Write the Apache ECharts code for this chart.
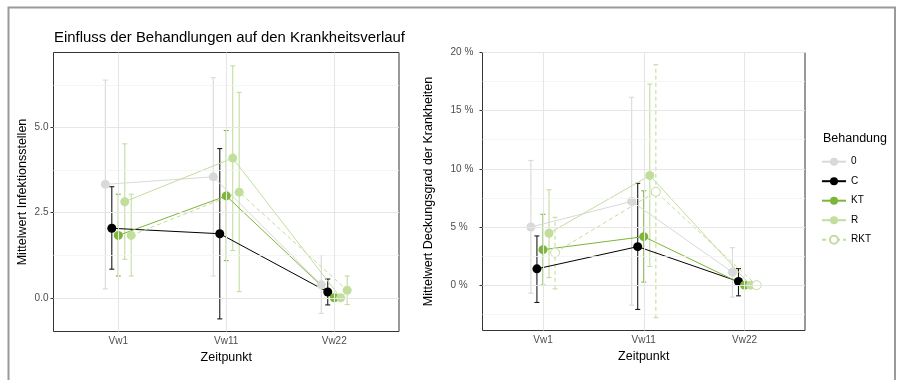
<!DOCTYPE html>
<html>
<head>
<meta charset="utf-8">
<script src="https://cdn.jsdelivr.net/npm/echarts@6/dist/echarts.min.js"></script>
<style>html,body{margin:0;padding:0;background:#fff;}#c{width:901px;height:380px;}</style>
</head>
<body>
<div id="c"></div>
<script>
const categories = ['Vw1', 'Vw11', 'Vw22'];
const groups = ['0', 'C', 'KT', 'R', 'RKT'];

// Left panel: Mittelwert Infektionsstellen (mean, lower, upper per time point)
const inf_0 = [3.33, 3.55, 0.38];
const inf_0_lo = [0.26, 0.64, -0.46];
const inf_0_hi = [6.39, 6.46, 1.24];
const inf_C = [2.04, 1.88, 0.17];
const inf_C_lo = [0.84, -0.62, -0.21];
const inf_C_hi = [3.26, 4.38, 0.55];
const inf_KT = [1.83, 2.99, 0.0];
const inf_KT_lo = [0.64, 1.09, 0.0];
const inf_KT_hi = [3.04, 4.91, 0.0];
const inf_R = [2.82, 4.10, 0.0];
const inf_R_lo = [1.13, 1.39, 0.0];
const inf_R_hi = [4.52, 6.81, 0.0];
const inf_RKT = [1.83, 3.10, 0.22];
const inf_RKT_lo = [0.64, 0.18, -0.20];
const inf_RKT_hi = [3.04, 6.03, 0.64];

// Right panel: Mittelwert Deckungsgrad der Krankheiten (in %)
const deck_0 = [5.0, 7.2, 1.11];
const deck_0_lo = [-0.69, -1.72, -1.03];
const deck_0_hi = [10.72, 16.15, 3.22];
const deck_C = [1.40, 3.31, 0.31];
const deck_C_lo = [-1.49, -2.09, -0.92];
const deck_C_hi = [4.23, 8.75, 1.42];
const deck_KT = [3.05, 4.17, 0.0];
const deck_KT_lo = [0.0, 0.26, 0.0];
const deck_KT_hi = [6.09, 8.11, 0.0];
const deck_R = [4.46, 9.43, 0.0];
const deck_R_lo = [0.65, 1.60, 0.0];
const deck_R_hi = [8.20, 17.29, 0.0];
const deck_RKT = [2.80, 8.03, 0.0];
const deck_RKT_lo = [-0.32, -2.80, 0.0];
const deck_RKT_hi = [5.83, 18.95, 0.0];

const leftTicks = [0, 2.5, 5.0];
const leftMinor = [1.25, 3.75, 6.25];
const rightTicks = [0, 5, 10, 15, 20];
const rightMinor = [-2.5, 2.5, 7.5, 12.5, 17.5];

const infData = {
  '0': [inf_0, inf_0_lo, inf_0_hi],
  'C': [inf_C, inf_C_lo, inf_C_hi],
  'KT': [inf_KT, inf_KT_lo, inf_KT_hi],
  'R': [inf_R, inf_R_lo, inf_R_hi],
  'RKT': [inf_RKT, inf_RKT_lo, inf_RKT_hi]
};
const deckData = {
  '0': [deck_0, deck_0_lo, deck_0_hi],
  'C': [deck_C, deck_C_lo, deck_C_hi],
  'KT': [deck_KT, deck_KT_lo, deck_KT_hi],
  'R': [deck_R, deck_R_lo, deck_R_hi],
  'RKT': [deck_RKT, deck_RKT_lo, deck_RKT_hi]
};

const colors = { '0': '#D9D9D9', 'C': '#000000', 'KT': '#7DB539', 'R': '#C2DE9D', 'RKT': '#C2DE9D' };
const dodge = { '0': -0.12, 'C': -0.06, 'KT': 0, 'R': 0.06, 'RKT': 0.12 };
const FONT = 'Liberation Sans, Arial, Helvetica, sans-serif';

function gridSeries(idx, majorY, minorY) {
  const d = [];
  minorY.forEach(v => d.push({ yAxis: v, lineStyle: { color: '#F2F2F2', width: 0.8, type: 'solid' } }));
  majorY.forEach(v => d.push({ yAxis: v, lineStyle: { color: '#E6E6E6', width: 1.1, type: 'solid' } }));
  [1, 2, 3].forEach(v => d.push({ xAxis: v, lineStyle: { color: '#E6E6E6', width: 1.1, type: 'solid' } }));
  return {
    type: 'line', xAxisIndex: idx, yAxisIndex: idx, data: [], z: 1, silent: true,
    markLine: { silent: true, symbol: ['none', 'none'], label: { show: false }, animation: false, data: d }
  };
}

function errSeries(idx, g, arr, dashed) {
  const data = [];
  for (let i = 0; i < 3; i++) {
    if (arr[2][i] !== arr[1][i]) data.push([i + 1 + dodge[g], arr[1][i], arr[2][i]]);
  }
  const col = g === 'C' ? '#1a1a1a' : colors[g];
  return {
    type: 'custom', xAxisIndex: idx, yAxisIndex: idx, z: 2, silent: true,
    encode: { x: 0, y: [1, 2] },
    data: data,
    renderItem: function (params, api) {
      const x = api.value(0);
      const lo = api.coord([x, api.value(1)]);
      const hi = api.coord([x, api.value(2)]);
      const w = 2.5;
      const style = { stroke: col, lineWidth: 1.1, lineDash: dashed ? [4, 3] : null, fill: null };
      return {
        type: 'group', children: [
          { type: 'line', shape: { x1: lo[0], y1: lo[1], x2: hi[0], y2: hi[1] }, style: style },
          { type: 'line', shape: { x1: hi[0] - w, y1: hi[1], x2: hi[0] + w, y2: hi[1] }, style: { stroke: col, lineWidth: 1.1 } },
          { type: 'line', shape: { x1: lo[0] - w, y1: lo[1], x2: lo[0] + w, y2: lo[1] }, style: { stroke: col, lineWidth: 1.1 } }
        ]
      };
    }
  };
}

function lineSeries(idx, g, arr, openRKT) {
  const isRKT = g === 'RKT';
  const data = arr[0].map((v, i) => [i + 1 + dodge[g], v]);
  return {
    name: g, type: 'line', xAxisIndex: idx, yAxisIndex: idx, z: 3,
    data: data, symbol: 'circle', symbolSize: 9, showSymbol: true,
    lineStyle: { color: colors[g], width: 1, type: isRKT ? [4, 3] : 'solid' },
    itemStyle: (isRKT && openRKT)
      ? { color: '#ffffff', borderColor: colors[g], borderWidth: 1 }
      : { color: colors[g], borderWidth: 0 },
    emphasis: { disabled: true },
    animation: false
  };
}

const series = [];
// right panel first (legend takes its icons)
series.push(gridSeries(1, rightTicks, rightMinor));
series.push(gridSeries(0, leftTicks, leftMinor));
groups.forEach(g => series.push(errSeries(1, g, deckData[g], g === 'RKT')));
groups.forEach(g => series.push(lineSeries(1, g, deckData[g], true)));
groups.forEach(g => series.push(errSeries(0, g, infData[g], false)));
groups.forEach(g => series.push(lineSeries(0, g, infData[g], false)));

function xAxis(idx) {
  return {
    type: 'value', gridIndex: idx, min: 0.4, max: 3.6,
    name: 'Zeitpunkt', nameLocation: 'middle', nameGap: 15,
    nameTextStyle: { fontFamily: FONT, fontSize: 12.5, color: '#000' },
    axisLine: { show: false },
    axisTick: { show: true, length: 3, lineStyle: { color: '#333' }, customValues: [1, 2, 3] },
    axisLabel: { fontFamily: FONT, fontSize: 10, color: '#4D4D4D', margin: 5, customValues: [1, 2, 3],
      formatter: v => categories[Math.round(v) - 1] },
    splitLine: { show: false }
  };
}

const option = {
  animation: false,
  backgroundColor: '#fff',
  title: [
    { text: 'Einfluss der Behandlungen auf den Krankheitsverlauf', left: 54, top: 30, padding: 0,
      textStyle: { fontFamily: FONT, fontSize: 14.9, fontWeight: 'normal', color: '#000' } },
    { text: 'Behandung', left: 823, top: 132, padding: 0,
      textStyle: { fontFamily: FONT, fontSize: 12.5, fontWeight: 'normal', color: '#000' } }
  ],
  legend: {
    data: groups, orient: 'vertical', left: 821, top: 156.7, padding: 0,
    itemWidth: 24, itemHeight: 10, itemGap: 9.5, selectedMode: false,
    textStyle: { fontFamily: FONT, fontSize: 10, color: '#000' }
  },
  graphic: [
    { type: 'rect', shape: { x: 8.5, y: 7.5, width: 886.5, height: 400 },
      style: { fill: null, stroke: '#9a9a9a', lineWidth: 2 }, silent: true, z: 100 }
  ],
  grid: [
    { left: 53.5, top: 52.5, width: 345.5, height: 279, show: true, borderColor: '#333', borderWidth: 1, backgroundColor: '#fff' },
    { left: 482.5, top: 52.5, width: 322.5, height: 278, show: true, borderColor: '#333', borderWidth: 1, backgroundColor: '#fff' }
  ],
  xAxis: [xAxis(0), xAxis(1)],
  yAxis: [
    {
      type: 'value', gridIndex: 0, min: -0.99, max: 7.2,
      name: 'Mittelwert Infektionsstellen', nameLocation: 'middle', nameGap: 24,
      nameTextStyle: { fontFamily: FONT, fontSize: 12.5, color: '#000' },
      axisLine: { show: false },
      axisTick: { show: true, length: 3, lineStyle: { color: '#333' }, customValues: leftTicks },
      axisLabel: { fontFamily: FONT, fontSize: 10, color: '#4D4D4D', margin: 5, customValues: leftTicks,
        formatter: v => v.toFixed(1) },
      splitLine: { show: false }
    },
    {
      type: 'value', gridIndex: 1, min: -3.9, max: 20,
      name: 'Mittelwert Deckungsgrad der Krankheiten', nameLocation: 'middle', nameGap: 47,
      nameTextStyle: { fontFamily: FONT, fontSize: 12.5, color: '#000' },
      axisLine: { show: false },
      axisTick: { show: true, length: 3, lineStyle: { color: '#333' }, customValues: rightTicks },
      axisLabel: { fontFamily: FONT, fontSize: 10, color: '#4D4D4D', margin: 32, align: 'left', customValues: rightTicks,
        formatter: v => Math.round(v) + ' %' },
      splitLine: { show: false }
    }
  ],
  series: series
};

const chart = echarts.init(document.getElementById('c'), null, { renderer: 'canvas' });
chart.setOption(option);
</script>
</body>
</html>
